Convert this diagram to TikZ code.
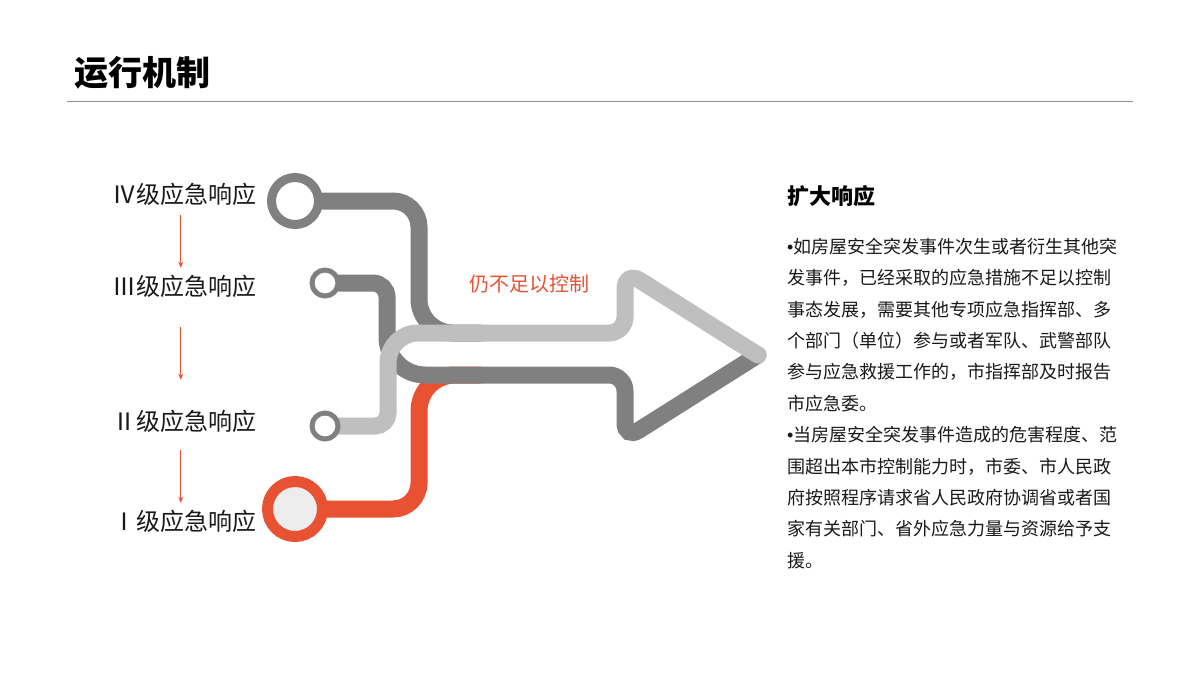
\documentclass[tikz,border=0pt]{standalone}
\usepackage{fontspec}
\setmainfont{Noto Sans CJK SC}
\newfontfamily\latinfont{Liberation Sans}
\usetikzlibrary{arrows.meta,backgrounds}
\definecolor{myred}{RGB}{232,82,50}
\definecolor{mygray}{RGB}{128,128,128}
\definecolor{mylight}{RGB}{191,191,191}
\newcommand{\dotmark}{{\latinfont •}}
\tikzset{track/.style={line width=17pt, line cap=round}}
\tikzset{ring/.style={circle, draw=mygray, fill=white, inner sep=0pt}}
\tikzset{level/.style={anchor=base east, inner sep=0pt, text height=21pt, text depth=3pt, black!90, font=\fontsize{24}{24}\selectfont}}
\tikzset{flow/.style={myred, line width=1.2pt, -{Stealth[length=6pt,width=5pt]}}}
\tikzset{body/.style={anchor=base west, inner sep=0pt, black!90, font=\fontsize{18}{18}\selectfont}}

\begin{document}
\begin{tikzpicture}[x=1pt, y=-1pt]
\useasboundingbox (0,0) rectangle (1200,675);
\node[anchor=base west, inner sep=0pt, font=\fontsize{34}{34}\selectfont\bfseries] (title) at (74,85) {运行机制};
\draw[black!45, line width=1pt] (67,101) -- (1133,101);
% levels
\node[level] (l4) at (257,203) {Ⅳ级应急响应};
\node[level] (l3) at (257,295) {Ⅲ级应急响应};
\node[level] (l2) at (257,430) {Ⅱ级应急响应};
\node[level] (l1) at (257,530) {Ⅰ级应急响应};
\draw[flow, shorten <=9pt, shorten >=6pt] ([xshift=-4pt]l4.south) -- ([xshift=-4pt]l3.north);
\draw[flow, shorten <=29pt, shorten >=29pt] ([xshift=-4pt]l3.south) -- ([xshift=-4pt]l2.north);
\draw[flow, shorten <=17pt, shorten >=6pt] ([xshift=-4pt]l2.south) -- ([xshift=-4pt]l1.north);
% rings
\node[ring, line width=9pt, minimum size=47pt] (c4) at (295,201) {};
\node[ring, line width=5pt, minimum size=26pt] (c3) at (325,283) {};
\node[ring, line width=5pt, minimum size=26pt] (c2) at (325,426) {};
\node[ring, line width=11pt, minimum size=55pt, draw=myred, fill=black!7] (c1) at (295,509) {};
% tracks
\begin{scope}[on background layer]
\draw[track, myred] (c1.center) [rounded corners=26pt] -- (419,509) [rounded corners=36pt] -- (419,375) -- (480,375);
\draw[track, mygray] (c4.center) [rounded corners=26pt] -- (419,201) [rounded corners=34pt] -- (419,333) -- (480,333);
\draw[track, mygray] (c3.center) [rounded corners=14pt] -- (387,283) [rounded corners=38pt] -- (387,375) [rounded corners=16pt] -- (625,375) -- (625,439) -- (758,355);
\draw[track, mylight] (c2.center) [rounded corners=13pt] -- (388,426) [rounded corners=30pt] -- (388,333) [rounded corners=16pt] -- (625,333) [rounded corners=18pt] -- (625,271) -- (758,355);
\end{scope}
\node[myred, font=\fontsize{20}{20}\selectfont] (note) at (529,284) {仍不足以控制};
% text
\node[anchor=base west, inner sep=0pt, font=\fontsize{22}{22}\selectfont\bfseries] (head) at (787,204) {扩大响应};
\foreach \txt [count=\i] in {\dotmark 如房屋安全突发事件次生或者衍生其他突, 发事件，已经采取的应急措施不足以控制, 事态发展，需要其他专项应急指挥部、多, 个部门（单位）参与或者军队、武警部队, 参与应急救援工作的，市指挥部及时报告, 市应急委。, \dotmark 当房屋安全突发事件造成的危害程度、范, 围超出本市控制能力时，市委、市人民政, 府按照程序请求省人民政府协调省或者国, 家有关部门、省外应急力量与资源给予支, 援。}
  \node[body] (b\i) at (787, {253.3+31.4*(\i-1)}) {\txt};
\end{tikzpicture}
\end{document}
